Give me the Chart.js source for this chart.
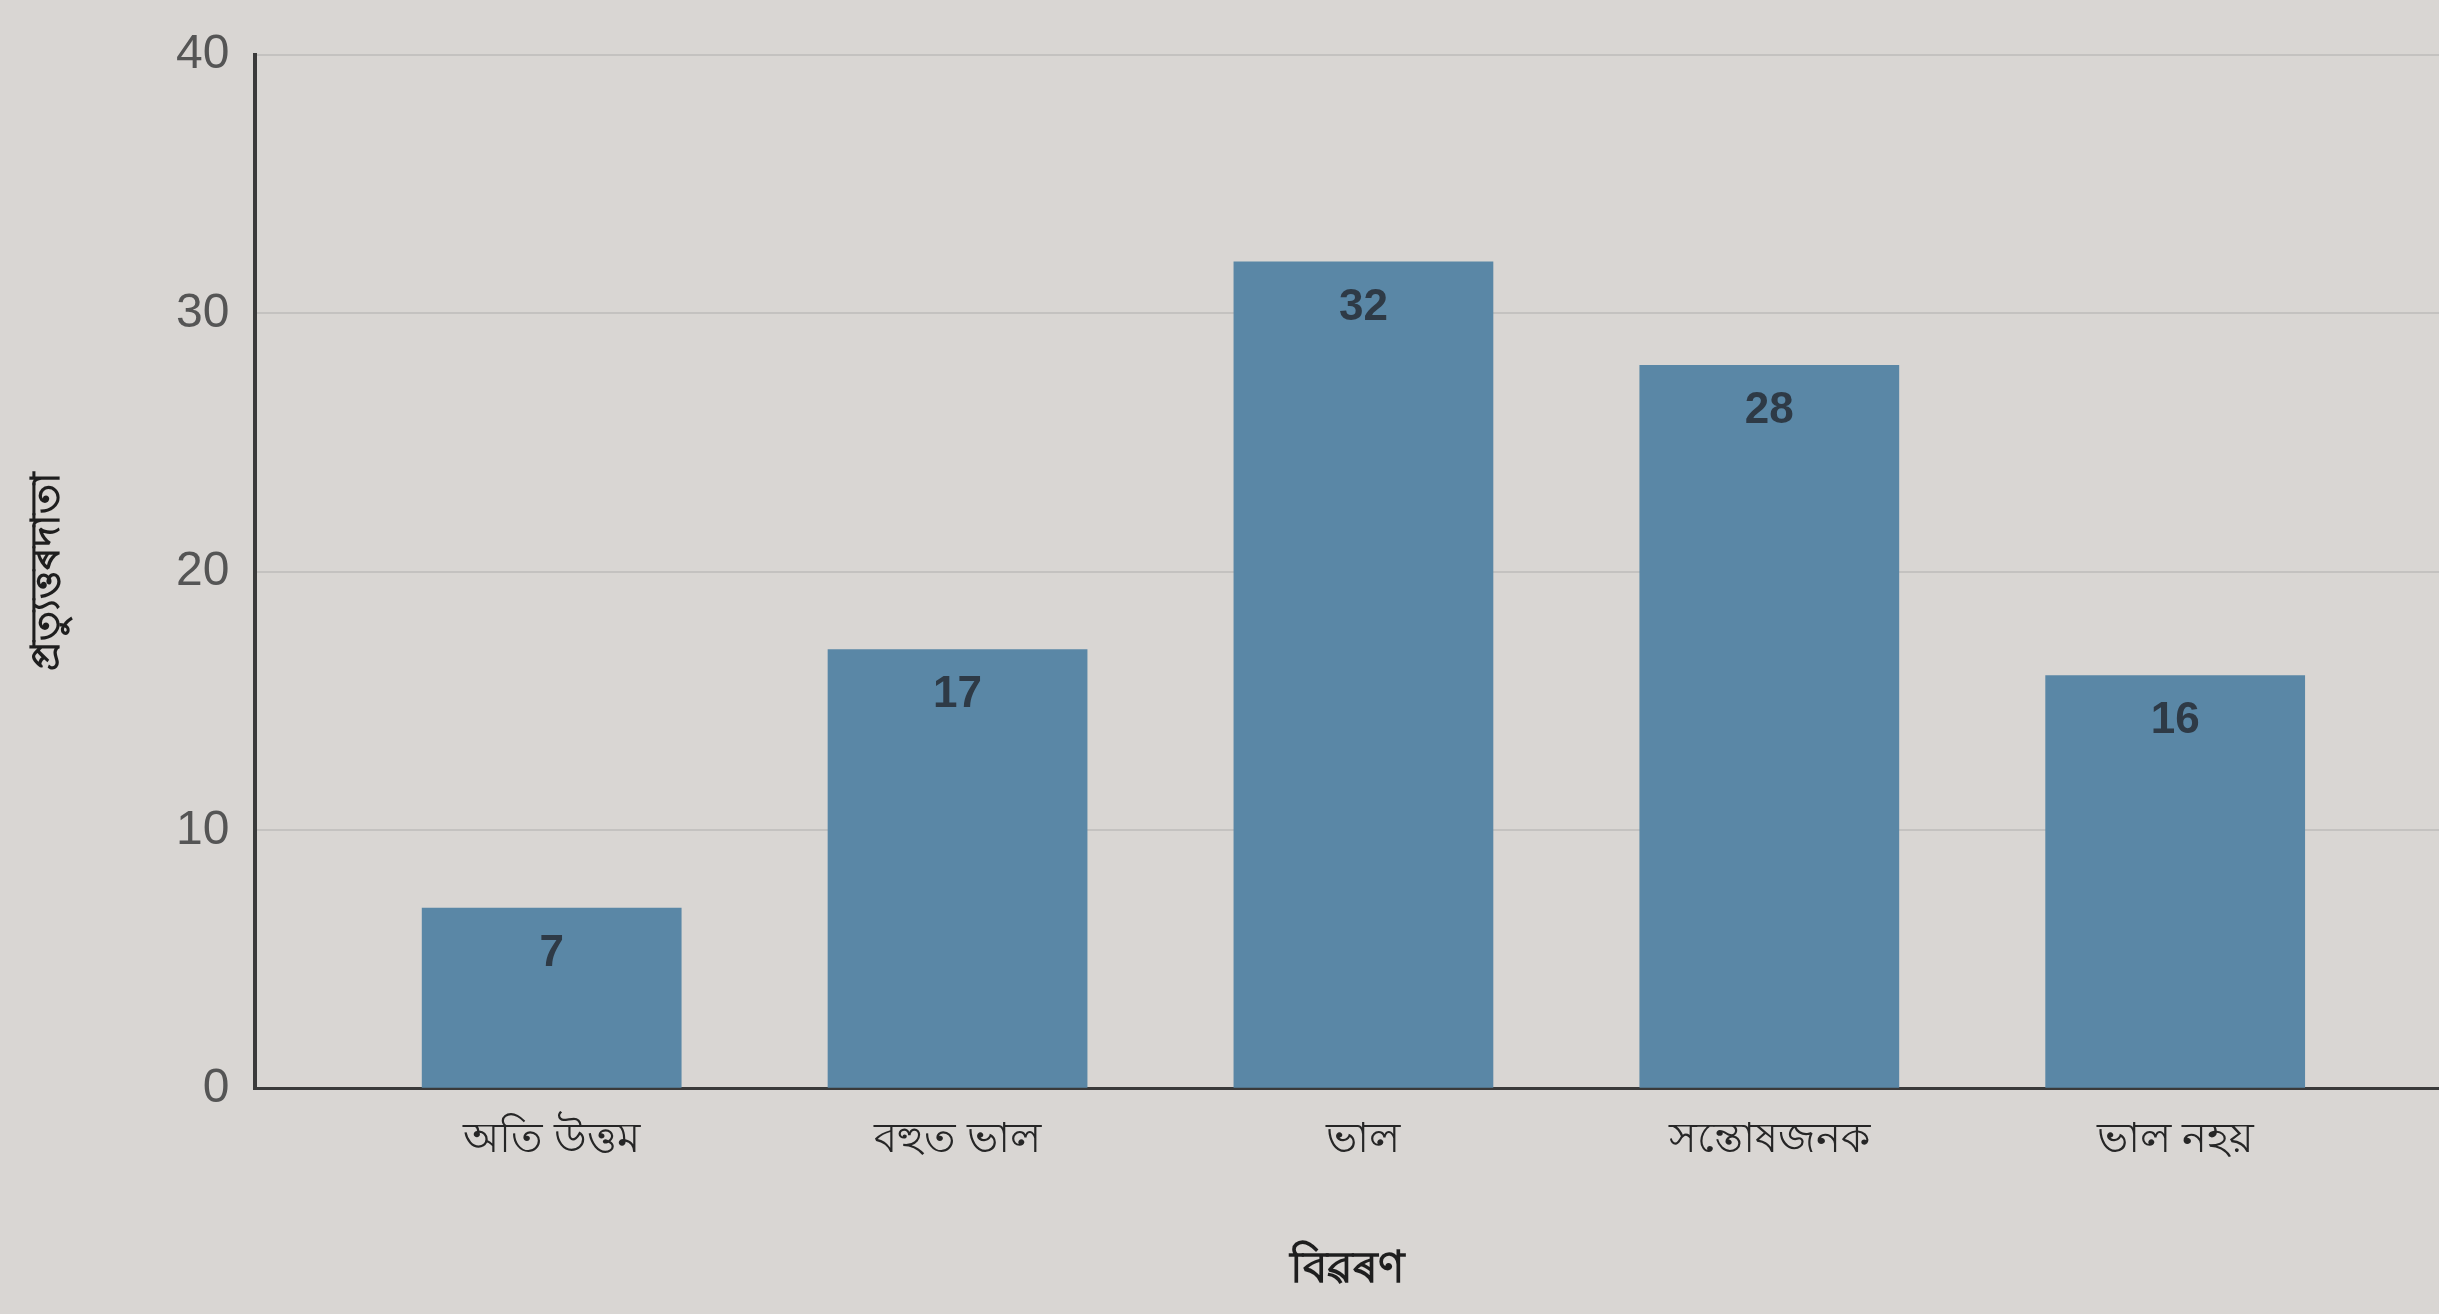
<!DOCTYPE html>
<html>
<head>
<meta charset="utf-8">
<script src="https://cdn.jsdelivr.net/npm/chart.js@4"></script>
<style>
  html, body { margin: 0; padding: 0; background: #d9d6d3; }
  #wrap { width: 2439px; height: 1314px; }
</style>
</head>
<body>
<div id="wrap"><canvas id="barChart" width="2439" height="1314"></canvas></div>
<script>
const categories = ['অতি উত্তম', 'বহুত ভাল', 'ভাল', 'সন্তোষজনক', 'ভাল নহয়'];
const responses = [7, 17, 32, 28, 16];
const yTicks = [0, 10, 20, 30, 40];
const xTitle = 'বিৱৰণ';
const yTitle = 'প্ৰত্যুত্তৰদাতা';

// value labels drawn inside the top of each bar
const valueLabels = {
    id: 'valueLabels',
    afterDatasetsDraw(chart) {
        const ctx = chart.ctx;
        const meta = chart.getDatasetMeta(0);
        ctx.save();
        ctx.font = 'bold 44px "Liberation Sans", Arial, sans-serif';
        ctx.fillStyle = '#2e3a46';
        ctx.textAlign = 'center';
        ctx.textBaseline = 'middle';
        meta.data.forEach((bar, i) => {
            ctx.fillText(String(responses[i]), bar.x, bar.y + 46);
        });
        ctx.restore();
    }
};

const ctx = document.getElementById('barChart').getContext('2d');
new Chart(ctx, {
    type: 'bar',
    data: {
        datasets: [{
            data: responses.map((v, i) => ({ x: i, y: v })),
            backgroundColor: '#5a87a6',
            borderWidth: 0,
            barPercentage: 0.64,
            categoryPercentage: 1
        }]
    },
    options: {
        responsive: false,
        animation: false,
        layout: { padding: { left: 20, top: 16, right: 0, bottom: 14 } },
        plugins: {
            legend: { display: false },
            tooltip: { enabled: false }
        },
        scales: {
            x: {
                type: 'linear',
                offset: false,
                min: -0.73,
                max: 4.65,
                afterBuildTicks: axis => { axis.ticks = categories.map((c, i) => ({ value: i })); },
                grid: { display: false, drawTicks: false, offset: false },
                border: { display: true, color: '#3a3a3a', width: 3 },
                ticks: {
                    callback: v => categories[v],
                    color: '#262626',
                    padding: 26,
                    maxRotation: 0,
                    font: { size: 42, family: '"Noto Sans", sans-serif' }
                },
                title: {
                    display: true,
                    text: xTitle,
                    color: '#1e1e1e',
                    padding: { top: 52 },
                    font: { size: 44, weight: 'bold', family: '"Noto Sans", sans-serif' }
                }
            },
            y: {
                min: 0,
                max: 40,
                afterBuildTicks: axis => { axis.ticks = yTicks.map(v => ({ value: v })); },
                grid: { color: '#c4c2c0', lineWidth: 2, drawTicks: false },
                border: { display: true, color: '#3a3a3a', width: 4 },
                ticks: {
                    color: '#555',
                    padding: 26,
                    font: { size: 48, family: '"Liberation Sans", Arial, sans-serif' }
                },
                title: {
                    display: true,
                    text: yTitle,
                    color: '#1e1e1e',
                    padding: { bottom: 78 },
                    font: { size: 40, weight: 'bold', family: '"Noto Sans", sans-serif' }
                }
            }
        }
    },
    plugins: [valueLabels]
});
</script>
</body>
</html>
